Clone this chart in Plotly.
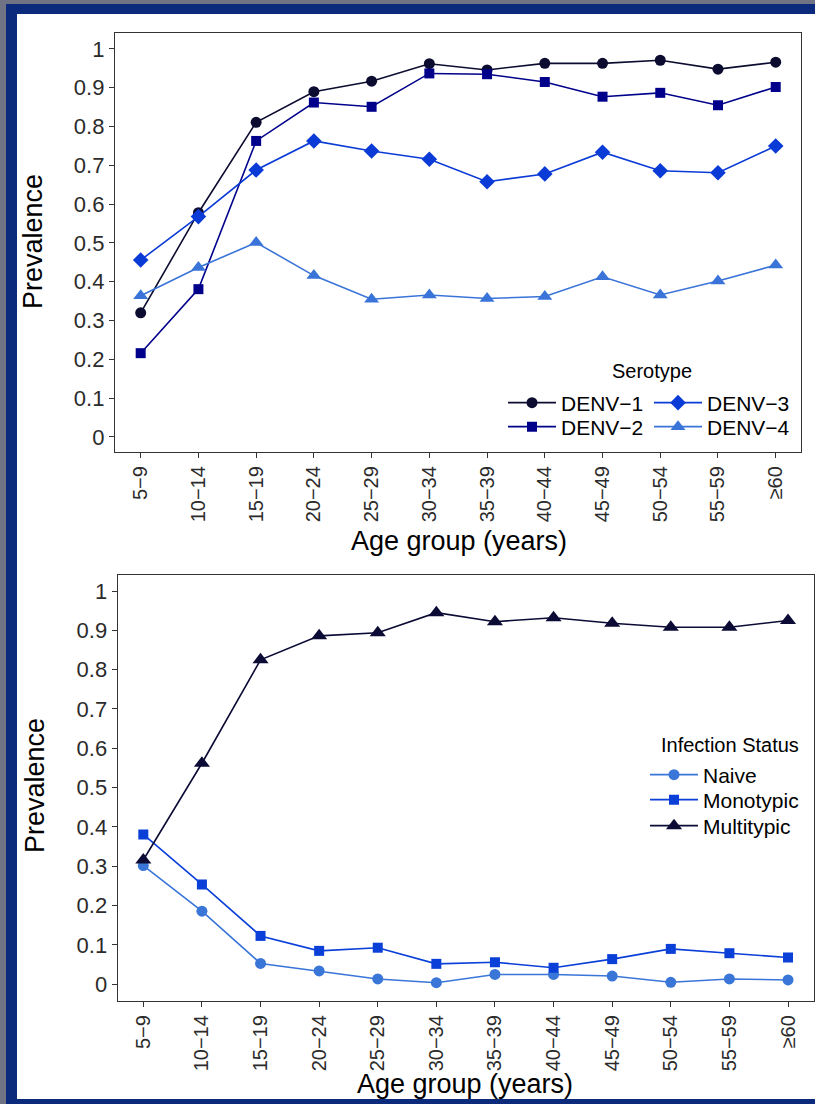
import plotly.graph_objects as go

# ---------------- data ----------------
age_groups = ["5−9", "10−14", "15−19", "20−24", "25−29", "30−34",
              "35−39", "40−44", "45−49", "50−54", "55−59", "≥60"]

denv1 = [0.32, 0.578, 0.811, 0.890, 0.917, 0.962, 0.946, 0.963, 0.963, 0.971, 0.948, 0.966]
denv2 = [0.216, 0.381, 0.763, 0.862, 0.851, 0.937, 0.935, 0.915, 0.877, 0.887, 0.855, 0.902]
denv3 = [0.456, 0.568, 0.688, 0.763, 0.737, 0.716, 0.658, 0.678, 0.734, 0.686, 0.681, 0.750]
denv4 = [0.364, 0.437, 0.501, 0.416, 0.355, 0.366, 0.357, 0.362, 0.413, 0.366, 0.402, 0.443]

naive = [0.302, 0.186, 0.053, 0.034, 0.0135, 0.004, 0.025, 0.025, 0.021, 0.005, 0.0135, 0.011]
monotypic = [0.381, 0.254, 0.123, 0.085, 0.093, 0.052, 0.056, 0.042, 0.064, 0.090, 0.079, 0.068]
multitypic = [0.316, 0.562, 0.825, 0.886, 0.894, 0.945, 0.922, 0.932, 0.918, 0.908, 0.908, 0.925]

y_tick_vals = [0, 0.1, 0.2, 0.3, 0.4, 0.5, 0.6, 0.7, 0.8, 0.9, 1]
y_tick_text = ["0", "0.1", "0.2", "0.3", "0.4", "0.5", "0.6", "0.7", "0.8", "0.9", "1"]

# ---------------- layout helpers ----------------
W, H = 815, 1104
FONT = "Liberation Sans, Arial, Helvetica, sans-serif"
TICK_COLOR = "#333333"


def fx(px):
    return px / W


def fy(py):
    return 1 - py / H


fig = go.Figure()

top_series = [
    ("DENV−1", denv1, "#0c0c30", "circle", 11, "legend", 403, 503),
    ("DENV−2", denv2, "#00008b", "square", 10, "legend2", 427, 503),
    ("DENV−3", denv3, "#0b3bd6", "diamond", 12, "legend3", 403, 649),
    ("DENV−4", denv4, "#3a74d8", "triangle-up", 13, "legend4", 427, 649),
]
bottom_series = [
    ("Naive", naive, "#3a76d8", "circle", 11, "legend5", 775, 645),
    ("Monotypic", monotypic, "#0a3fd8", "square", 10, "legend6", 800, 645),
    ("Multitypic", multitypic, "#0b0b35", "triangle-up", 14, "legend7", 826, 645),
]

legend_layouts = {}
for panel, series in (("top", top_series), ("bottom", bottom_series)):
    xa, ya = ("x", "y") if panel == "top" else ("x2", "y2")
    for name, vals, col, sym, size, lg, ly, lx in series:
        fig.add_trace(go.Scatter(
            x=age_groups, y=vals, name=name, mode="lines+markers",
            line=dict(color=col, width=1.6),
            marker=dict(symbol=sym, size=size, color=col),
            xaxis=xa, yaxis=ya, legend=lg, showlegend=True))
        legend_layouts[lg] = dict(x=fx(lx), y=fy(ly), xanchor="left", yanchor="middle",
                                  bgcolor="rgba(0,0,0,0)", borderwidth=0, itemwidth=48,
                                  font=dict(family=FONT, size=21, color="#000000"))

xcommon = dict(type="category", categoryorder="array", categoryarray=age_groups,
               tickangle=-90, ticks="outside", ticklen=5, tickwidth=1.2,
               tickcolor=TICK_COLOR, showline=True, mirror=True, linecolor=TICK_COLOR,
               linewidth=1.3, showgrid=False, zeroline=False,
               tickfont=dict(family=FONT, size=20, color="#2b2b2b"))
ycommon = dict(tickmode="array", tickvals=y_tick_vals, ticktext=y_tick_text,
               ticks="outside", ticklen=5, tickwidth=1.2, tickcolor=TICK_COLOR,
               showline=True, mirror=True, linecolor=TICK_COLOR, linewidth=1.3,
               showgrid=False, zeroline=False,
               tickfont=dict(family=FONT, size=22, color="#2b2b2b"))


def ann(text, x, y, size, angle=0):
    return dict(text=text, x=fx(x), y=fy(y), xref="paper", yref="paper",
                xanchor="center", yanchor="middle", textangle=angle, showarrow=False,
                font=dict(family=FONT, size=size, color="#000000"))


layout = dict(
    width=W, height=H,
    margin=dict(l=0, r=0, t=0, b=0, autoexpand=False),
    paper_bgcolor="#6f7383",
    plot_bgcolor="#ffffff",
    font=dict(family=FONT, color="#000000"),
    xaxis=dict(xcommon, domain=[fx(115), fx(801)], range=[-0.445, 11.438], anchor="y"),
    yaxis=dict(ycommon, domain=[fy(452), fy(33)], range=[-0.0387, 1.0412], anchor="x"),
    xaxis2=dict(xcommon, domain=[fx(117.7), fx(813.5)], range=[-0.437, 11.435], anchor="y2"),
    yaxis2=dict(ycommon, domain=[fy(1001), fy(575)], range=[-0.0425, 1.0407], anchor="x2"),
    shapes=[
        dict(type="rect", xref="paper", yref="paper", x0=fx(6), x1=1.05, y0=-0.05, y1=fy(4),
             fillcolor="#0c2a7c", line=dict(width=0), layer="below"),
        dict(type="rect", xref="paper", yref="paper", x0=fx(17), x1=1.05, y0=fy(1099), y1=fy(14),
             fillcolor="#ffffff", line=dict(width=0), layer="below"),
    ],
    annotations=[
        ann("Prevalence", 33, 242, 27, -90),
        ann("Prevalence", 35, 786, 27, -90),
        ann("Age group (years)", 459, 541, 27),
        ann("Age group (years)", 465, 1084, 27),
        ann("Serotype", 652, 371, 20),
        ann("Infection Status", 730, 745, 20),
    ],
)
layout.update(legend_layouts)
fig.update_layout(**layout)

fig.write_html("out.html",
               config={"displayModeBar": False},
               post_script="document.body.style.margin='0';document.body.style.overflow='hidden';")
